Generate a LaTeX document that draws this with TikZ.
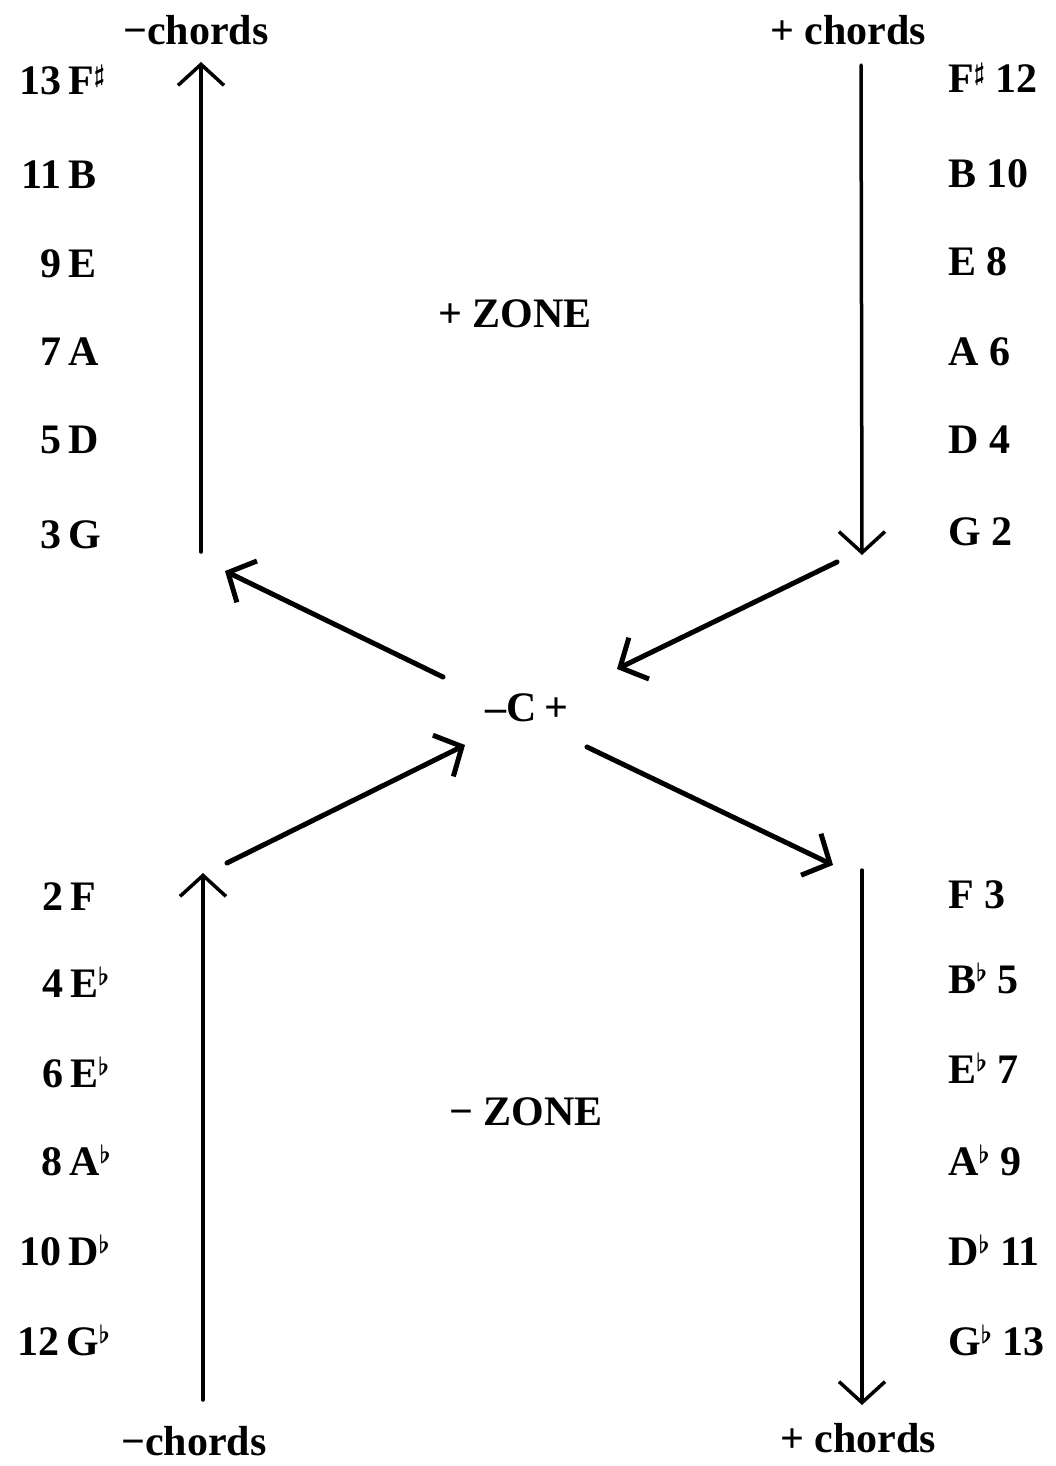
\documentclass[tikz,border=0pt]{standalone}
\usepackage{fontspec}
\setmainfont{Liberation Serif}
\newcommand{\myflat}{\raisebox{12pt}{\fontsize{32}{32}\selectfont\boldmath$\flat$}}
\newcommand{\mysharp}{\raisebox{12pt}{\fontsize{30}{30}\selectfont\boldmath$\sharp$}}
\usetikzlibrary{arrows.meta}
\begin{document}
\begin{tikzpicture}[x=1pt,y=-1pt,
  lbl/.style={font=\fontsize{42}{50}\selectfont\bfseries, inner sep=0pt},
  lft/.style={lbl, anchor=base west},
  rgt/.style={lbl, anchor=base west},
  arr/.style={-{Straight Barb[length=21pt,width=46pt]}, line width=3.5pt, line cap=round, line join=round},
  darr/.style={arr, line width=5pt}]
\useasboundingbox (0,0) rectangle (1056,1466);

% headers
\node[lbl, anchor=base] (hTL) at (196,45) {−chords};
\node[lbl, anchor=base] (hTR) at (848,45) {+ chords};
\node[lbl, anchor=base] (hBL) at (194,1455) {−chords};
\node[lbl, anchor=base] (hBR) at (858,1452) {+ chords};

% zones and centre
\node[lbl, anchor=base] (zp) at (515,327) {+ ZONE};
\node[lbl, anchor=base] (zm) at (526,1125) {− ZONE};
\node[lbl, anchor=base] (c) at (527,721) {–C\,+};

% left top column
\node[lft] (lt1) at (68,95)  {\llap{13\,}F\mysharp};
\node[lft] (lt2) at (68,189) {\llap{11\,}B};
\node[lft] (lt3) at (68,277) {\llap{9\,}E};
\node[lft] (lt4) at (68,365) {\llap{7\,}A};
\node[lft] (lt5) at (68,453) {\llap{5\,}D};
\node[lft] (lt6) at (68,548) {\llap{3\,}G};

% right top column
\node[rgt] (rt1) at (948,93)  {F\mysharp\ 12};
\node[rgt] (rt2) at (948,187) {B 10};
\node[rgt] (rt3) at (948,275) {E 8};
\node[rgt] (rt4) at (948,365) {A 6};
\node[rgt] (rt5) at (948,453) {D 4};
\node[rgt] (rt6) at (948,545) {G 2};

% left bottom column
\node[lft] (lb1) at (70,910)  {\llap{2\,}F};
\node[lft] (lb2) at (70,997)  {\llap{4\,}E\myflat};
\node[lft] (lb3) at (70,1087) {\llap{6\,}E\myflat};
\node[lft] (lb4) at (69,1175) {\llap{8\,}A\myflat};
\node[lft] (lb5) at (68,1265) {\llap{10\,}D\myflat};
\node[lft] (lb6) at (66,1355) {\llap{12\,}G\myflat};

% right bottom column
\node[rgt] (rb1) at (948,908)  {F 3};
\node[rgt] (rb2) at (948,993)  {B\myflat\ 5};
\node[rgt] (rb3) at (948,1083) {E\myflat\ 7};
\node[rgt] (rb4) at (948,1175) {A\myflat\ 9};
\node[rgt] (rb5) at (948,1265) {D\myflat\ 11};
\node[rgt] (rb6) at (948,1355) {G\myflat\ 13};

% arrow end points
\coordinate (vTLs) at (201,552);  \coordinate (vTLe) at (201,62);
\coordinate (vTRs) at (861,65);   \coordinate (vTRe) at (862,555);
\coordinate (vBLs) at (203,1400); \coordinate (vBLe) at (203,873);
\coordinate (vBRs) at (862,870);  \coordinate (vBRe) at (862,1405);
\coordinate (dULs) at (443,677);  \coordinate (dULe) at (225,571);
\coordinate (dURs) at (837,562);  \coordinate (dURe) at (617,669);
\coordinate (dLLs) at (227,863);  \coordinate (dLLe) at (465,745);
\coordinate (dLRs) at (587,747);  \coordinate (dLRe) at (833,865);

\draw[arr] (vTLs) -- (vTLe);
\draw[arr] (vTRs) -- (vTRe);
\draw[arr] (vBLs) -- (vBLe);
\draw[arr] (vBRs) -- (vBRe);
\draw[darr] (dULs) -- (dULe);
\draw[darr] (dURs) -- (dURe);
\draw[darr] (dLLs) -- (dLLe);
\draw[darr] (dLRs) -- (dLRe);
\end{tikzpicture}
\end{document}
